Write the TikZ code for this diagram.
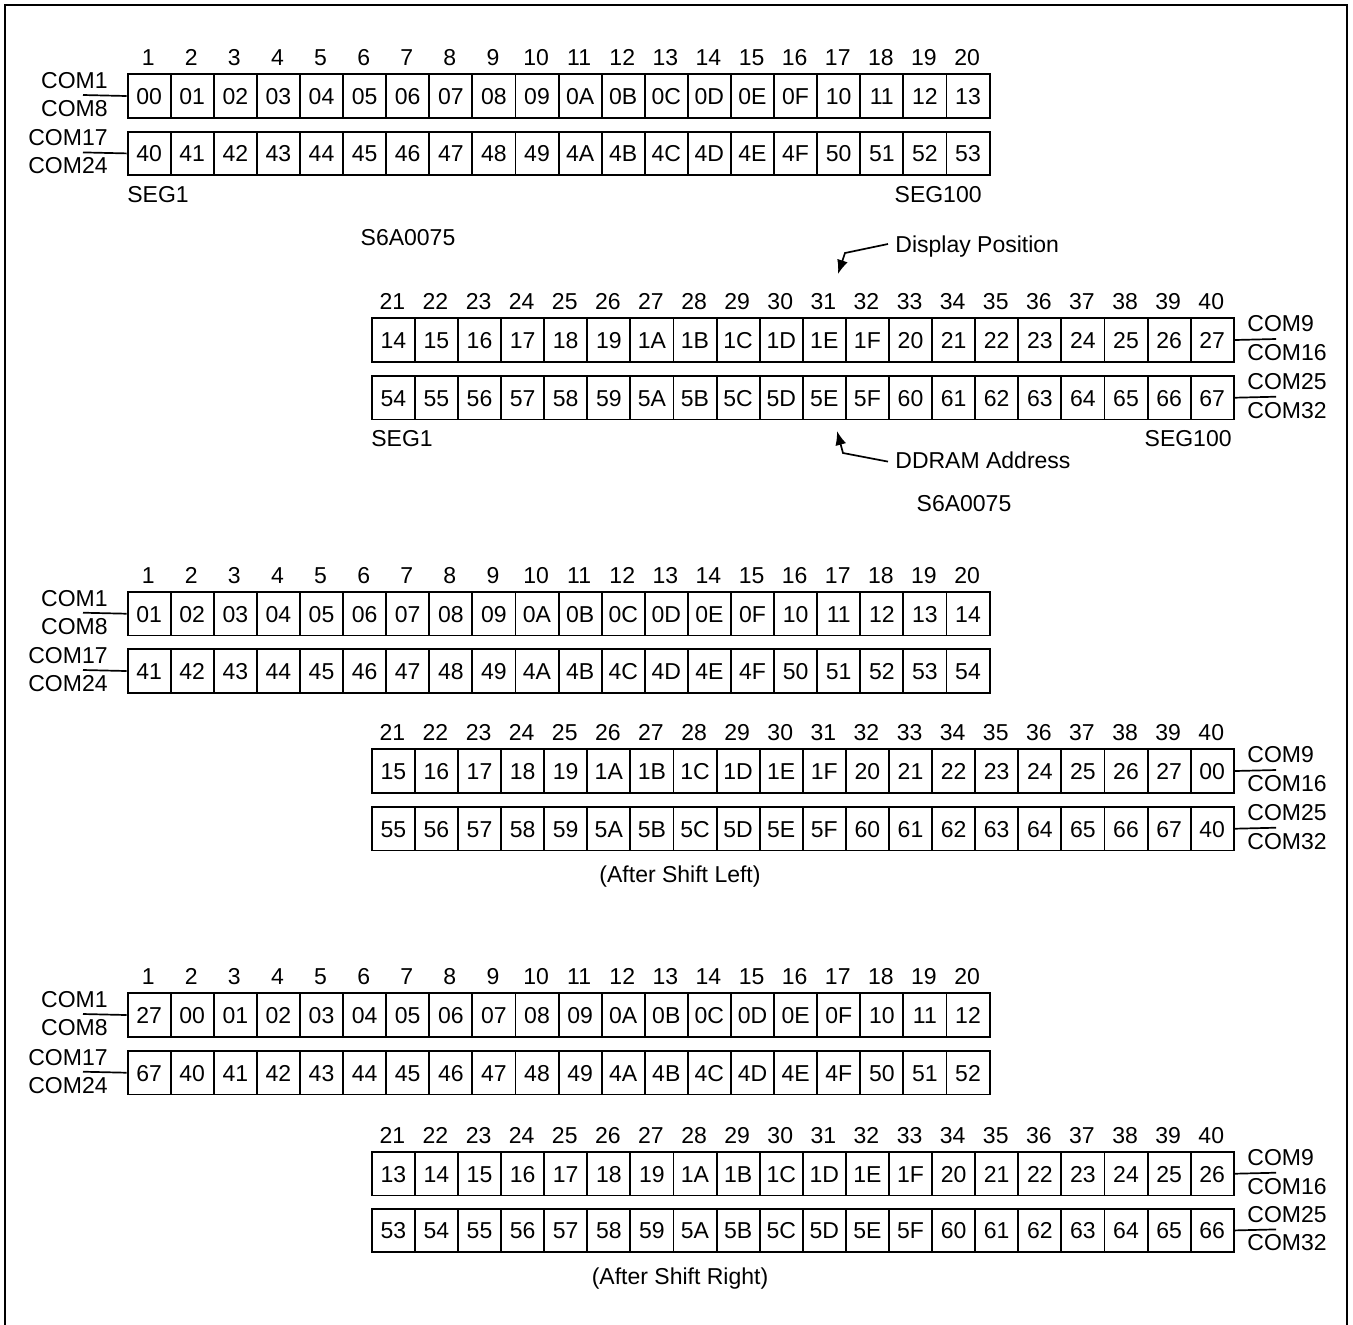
\documentclass[tikz,border=0pt]{standalone}
\usepackage{fontspec}
\setmainfont{Liberation Sans}
\usetikzlibrary{arrows.meta,calc}
\newcommand\cellrow[4]{%
  \foreach \t [count=\i] in {#4} {%
    \node[cellbox, anchor=north west] (#1-\i) at ({#2+(\i-1)*43.1},#3) {\t};
  }%
}
\newcommand\colnums[4]{%
  \foreach \i [count=\k] in {#4} {%
    \node[numlbl] (#1-\k) at ({#2+(\k-0.5)*43.1},{#3-16}) {\i};
  }%
}
\newcommand\leftcom[4]{%
  \coordinate (#1-s) at (83,{#2+21.7});
  \node[comlbl, anchor=east] (#1-a) at (108,{#2+21.7-15}) {#3};
  \node[comlbl, anchor=east] (#1-b) at (108,{#2+21.7+13}) {#4};
  \draw[comline] (#1-s) -- (#1-c.west);
}
\newcommand\rightcom[4]{%
  \coordinate (#1-s) at (1276,{#2+21.7});
  \node[comlbl, anchor=west] (#1-a) at (1247,{#2+21.7-15.5}) {#3};
  \node[comlbl, anchor=west] (#1-b) at (1247,{#2+21.7+13}) {#4};
  \draw[comline] (#1-c.east) -- (#1-s);
}
\begin{document}
\begin{tikzpicture}[x=0.5pt,y=-0.5pt,
  every node/.style={font=\fontsize{11.5}{13}\selectfont},
  cellbox/.style={draw, line width=0.95pt, minimum width=21.55pt, minimum height=21.75pt, inner sep=0pt, text height=8.3pt, text depth=0pt},
  numlbl/.style={inner sep=0pt, text height=8.3pt, text depth=0pt},
  comlbl/.style={inner sep=0pt, text height=8.3pt, text depth=0pt},
  plainlbl/.style={inner sep=0pt},
  comline/.style={line width=0.85pt},
  ptr/.style={line width=0.85pt, -{Latex[length=7pt,width=5.5pt]}}]
\useasboundingbox (0,0) rectangle (1353,1324);
\draw[line width=1.4pt] (5,1360) -- (5,5) -- (1347,5) -- (1347,1360);

% ---------- block 1 ----------
\colnums{n1l}{126.6}{73.3}{1,...,20}
\cellrow{a1}{126.6}{73.3}{00,01,02,03,04,05,06,07,08,09,0A,0B,0C,0D,0E,0F,10,11,12,13}
\cellrow{b1}{126.6}{130.7}{40,41,42,43,44,45,46,47,48,49,4A,4B,4C,4D,4E,4F,50,51,52,53}
\coordinate (a1-c) at (a1-1.west);
\coordinate (b1-c) at (b1-1.west);
\leftcom{a1}{73.3}{COM1}{COM8}
\leftcom{b1}{130.7}{COM17}{COM24}
\node[comlbl, anchor=west] (seg1a) at (127,194) {SEG1};
\node[comlbl, anchor=east] (seg100a) at (982,194) {SEG100};
\node[comlbl] (chip1) at (408,237) {S6A0075};

\colnums{n1r}{370.8}{317.3}{21,...,40}
\cellrow{c1}{370.8}{317.3}{14,15,16,17,18,19,1A,1B,1C,1D,1E,1F,20,21,22,23,24,25,26,27}
\cellrow{d1}{370.8}{375}{54,55,56,57,58,59,5A,5B,5C,5D,5E,5F,60,61,62,63,64,65,66,67}
\coordinate (c1-c) at (c1-20.east);
\coordinate (d1-c) at (d1-20.east);
\rightcom{c1}{317.3}{COM9}{COM16}
\rightcom{d1}{375}{COM25}{COM32}
\node[comlbl, anchor=west] (seg1b) at (371,438) {SEG1};
\node[comlbl, anchor=east] (seg100b) at (1232,438) {SEG100};

\node[comlbl, anchor=west] (dpos) at (895,244) {Display Position};
\coordinate (dpk) at (845,253);
\coordinate (dpt) at (838,274);
\draw[ptr] ([xshift=-3.5pt]dpos.west) -- (dpk) -- (dpt);
\node[comlbl, anchor=west] (ddram) at (895,460) {DDRAM Address};
\coordinate (ddk) at (843,453);
\coordinate (ddt) at (837,431);
\draw[ptr] ([xshift=-3.5pt,yshift=-0.8pt]ddram.west) -- (ddk) -- (ddt);
\node[comlbl] (chip2) at (964,503) {S6A0075};

% ---------- block 2 ----------
\colnums{n2l}{126.6}{591}{1,...,20}
\cellrow{a2}{126.6}{591}{01,02,03,04,05,06,07,08,09,0A,0B,0C,0D,0E,0F,10,11,12,13,14}
\cellrow{b2}{126.6}{648.3}{41,42,43,44,45,46,47,48,49,4A,4B,4C,4D,4E,4F,50,51,52,53,54}
\coordinate (a2-c) at (a2-1.west);
\coordinate (b2-c) at (b2-1.west);
\leftcom{a2}{591}{COM1}{COM8}
\leftcom{b2}{648.3}{COM17}{COM24}

\colnums{n2r}{370.8}{748.3}{21,...,40}
\cellrow{c2}{370.8}{748.3}{15,16,17,18,19,1A,1B,1C,1D,1E,1F,20,21,22,23,24,25,26,27,00}
\cellrow{d2}{370.8}{806}{55,56,57,58,59,5A,5B,5C,5D,5E,5F,60,61,62,63,64,65,66,67,40}
\coordinate (c2-c) at (c2-20.east);
\coordinate (d2-c) at (d2-20.east);
\rightcom{c2}{748.3}{COM9}{COM16}
\rightcom{d2}{806}{COM25}{COM32}
\node[plainlbl] (shl) at (680,877) {(After Shift Left)};

% ---------- block 3 ----------
\colnums{n3l}{126.6}{992.3}{1,...,20}
\cellrow{a3}{126.6}{992.3}{27,00,01,02,03,04,05,06,07,08,09,0A,0B,0C,0D,0E,0F,10,11,12}
\cellrow{b3}{126.6}{1050}{67,40,41,42,43,44,45,46,47,48,49,4A,4B,4C,4D,4E,4F,50,51,52}
\coordinate (a3-c) at (a3-1.west);
\coordinate (b3-c) at (b3-1.west);
\leftcom{a3}{992.3}{COM1}{COM8}
\leftcom{b3}{1050}{COM17}{COM24}

\colnums{n3r}{370.8}{1151}{21,...,40}
\cellrow{c3}{370.8}{1151}{13,14,15,16,17,18,19,1A,1B,1C,1D,1E,1F,20,21,22,23,24,25,26}
\cellrow{d3}{370.8}{1207.7}{53,54,55,56,57,58,59,5A,5B,5C,5D,5E,5F,60,61,62,63,64,65,66}
\coordinate (c3-c) at (c3-20.east);
\coordinate (d3-c) at (d3-20.east);
\rightcom{c3}{1151}{COM9}{COM16}
\rightcom{d3}{1207.7}{COM25}{COM32}
\node[plainlbl] (shr) at (680,1279) {(After Shift Right)};
\end{tikzpicture}
\end{document}
